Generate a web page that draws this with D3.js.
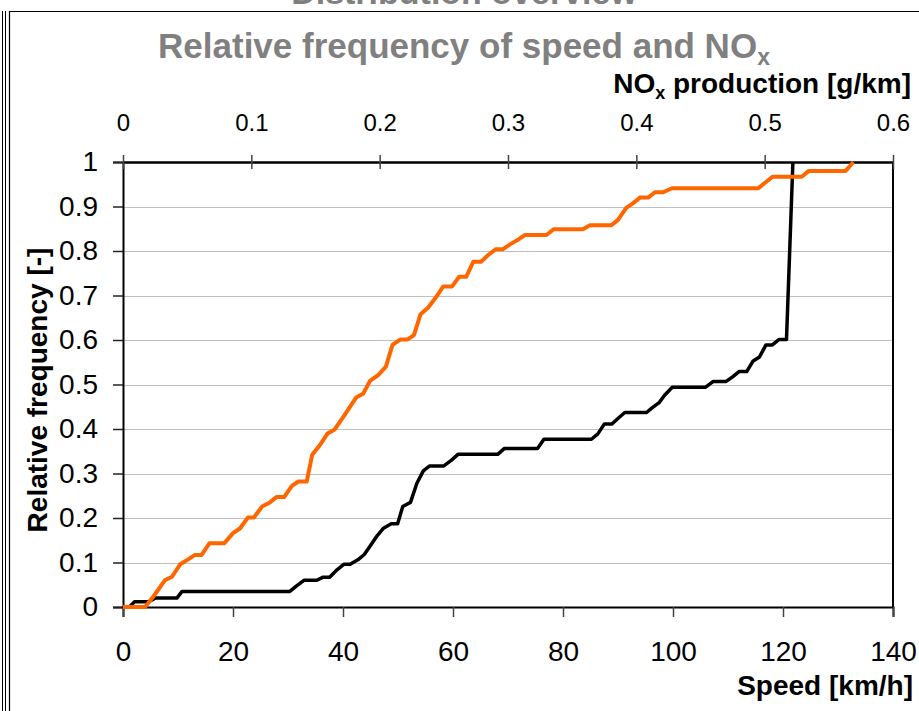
<!DOCTYPE html>
<html>
<head>
<meta charset="utf-8">
<script src="https://cdn.jsdelivr.net/npm/d3@7"></script>
<style>
  body { margin: 0; background: #fff; }
  svg { display: block; font-family: "Liberation Sans", Arial, sans-serif; }
</style>
</head>
<body>
<div id="chart"></div>
<script>
// Speed distribution (bottom axis, km/h)
const speedKmh = [
  0, 4, 5.5, 7.6, 8.9, 10.4, 11.7, 13.1, 14.3, 15.7,
  18.4, 20, 21.3, 22.7, 23.8, 25.3, 26.7, 27.9, 29.3, 30.7,
  31.9, 33.4, 34.4, 35.8, 37.2, 38.5, 40.7, 42.4, 43.7, 44.9,
  46.4, 47.8, 49, 50.4, 51.7, 52.9, 54.1, 55.5, 56.9, 58.2,
  59.8, 61.1, 62.4, 63.7, 65.1, 66.4, 67.8, 69.1, 70.5, 71.9,
  73.1, 77.0, 78.3, 83.6, 84.9, 88.8, 90, 91.5, 92.7, 94,
  95.5, 96.7, 98.2, 99.8, 115.5, 118.1, 123.4, 124.7, 131.4, 132.8
];
const speedFreq = [
  0, 0, 0.023, 0.06, 0.068, 0.096, 0.106, 0.117, 0.117, 0.143,
  0.143, 0.166, 0.177, 0.201, 0.201, 0.226, 0.235, 0.247, 0.247, 0.272,
  0.282, 0.282, 0.342, 0.364, 0.39, 0.399, 0.439, 0.471, 0.48, 0.508,
  0.521, 0.54, 0.589, 0.601, 0.601, 0.611, 0.658, 0.673, 0.696, 0.72,
  0.72, 0.742, 0.742, 0.776, 0.776, 0.791, 0.804, 0.804, 0.816, 0.826,
  0.836, 0.836, 0.849, 0.849, 0.858, 0.858, 0.87, 0.897, 0.907, 0.92,
  0.92, 0.932, 0.932, 0.941, 0.941, 0.967, 0.967, 0.98, 0.98, 1.0
];

// NOx distribution (top axis, g/km)
const noxGkm = [
  0, 0.005, 0.009, 0.020, 0.025, 0.042, 0.046, 0.130, 0.135, 0.141,
  0.151, 0.156, 0.161, 0.167, 0.172, 0.177, 0.183, 0.188, 0.193, 0.198,
  0.203, 0.209, 0.214, 0.218, 0.224, 0.229, 0.234, 0.239, 0.250, 0.256,
  0.261, 0.292, 0.297, 0.323, 0.328, 0.365, 0.370, 0.375, 0.381, 0.385,
  0.391, 0.408, 0.412, 0.418, 0.422, 0.428, 0.454, 0.460, 0.470, 0.475,
  0.480, 0.486, 0.491, 0.496, 0.501, 0.506, 0.511, 0.517, 0.522
];
const noxFreq = [
  0, 0, 0.012, 0.012, 0.02, 0.02, 0.035, 0.035, 0.047, 0.06,
  0.06, 0.067, 0.067, 0.084, 0.096, 0.096, 0.106, 0.118, 0.139, 0.16,
  0.177, 0.187, 0.187, 0.226, 0.235, 0.278, 0.306, 0.317, 0.317, 0.33,
  0.343, 0.343, 0.356, 0.356, 0.377, 0.377, 0.389, 0.411, 0.411, 0.422,
  0.437, 0.437, 0.447, 0.46, 0.476, 0.494, 0.494, 0.507, 0.507, 0.517,
  0.529, 0.529, 0.553, 0.562, 0.589, 0.589, 0.601, 0.601, 1.0
];

// Tick values
const speedTicks = [0, 20, 40, 60, 80, 100, 120, 140];
const noxTicks = [0, 0.1, 0.2, 0.3, 0.4, 0.5, 0.6];
const freqTicks = [0, 0.1, 0.2, 0.3, 0.4, 0.5, 0.6, 0.7, 0.8, 0.9, 1];

const width = 919;
const height = 711;
const plot = { left: 123, right: 893, top: 162, bottom: 607 };

const svg = d3
  .select("#chart")
  .append("svg")
  .attr("width", width)
  .attr("height", height)
  .attr("viewBox", [0, 0, width, height]);

const xSpeed = d3.scaleLinear().domain([0, 140]).range([plot.left, plot.right]);
const xNox = d3.scaleLinear().domain([0, 0.6]).range([plot.left, plot.right]);
const y = d3.scaleLinear().domain([0, 1]).range([plot.bottom, plot.top]);

// Outer frame lines (chart cut out of a larger sheet)
svg.append("line").attr("x1", 2.5).attr("x2", 2.5).attr("y1", 11).attr("y2", height)
  .attr("stroke", "#000").attr("stroke-width", 1);
svg.append("line").attr("x1", 5.5).attr("x2", 5.5).attr("y1", 11).attr("y2", height)
  .attr("stroke", "#000").attr("stroke-width", 1);
svg.append("line").attr("x1", 9.5).attr("x2", 9.5).attr("y1", 11).attr("y2", height)
  .attr("stroke", "#000").attr("stroke-width", 1.2);
svg.append("line").attr("x1", 9).attr("x2", width).attr("y1", 11.5).attr("y2", 11.5)
  .attr("stroke", "#000").attr("stroke-width", 1.2);

// Clipped heading of the sheet above (only its lower edge shows)
svg.append("text")
  .attr("x", 464)
  .attr("y", 4)
  .attr("text-anchor", "middle")
  .attr("fill", "#808080")
  .style("font-weight", "bold")
  .style("font-size", "34px")
  .text("Distribution overview");

// Gridlines
svg.append("g")
  .selectAll("line")
  .data(freqTicks)
  .join("line")
  .attr("x1", plot.left)
  .attr("x2", plot.right)
  .attr("y1", (d) => Math.round(y(d)) + 0.5)
  .attr("y2", (d) => Math.round(y(d)) + 0.5)
  .attr("stroke", "#c0c0c0")
  .attr("stroke-width", 1);

// Right border of the plot
svg.append("line")
  .attr("x1", plot.right).attr("x2", plot.right)
  .attr("y1", plot.top).attr("y2", plot.bottom)
  .attr("stroke", "#000").attr("stroke-width", 2);

// Left axis
const yAxis = svg.append("g")
  .attr("transform", `translate(${plot.left},0)`)
  .call(d3.axisLeft(y).tickValues(freqTicks).tickFormat(d3.format("")).tickSize(10).tickPadding(15));
yAxis.select(".domain").attr("stroke", "#000").attr("stroke-width", 2);
yAxis.selectAll(".tick line").attr("stroke", "#222").attr("stroke-width", 1.5);
yAxis.selectAll(".tick text")
  .attr("fill", "#000")
  .style("font-size", "28px")
  .style("font-family", "Liberation Sans, Arial, sans-serif");

// Bottom axis (speed)
const xAxisBottom = svg.append("g")
  .attr("transform", `translate(0,${plot.bottom})`)
  .call(d3.axisBottom(xSpeed).tickValues(speedTicks).tickSize(10).tickPadding(24));
xAxisBottom.select(".domain").attr("stroke", "#000").attr("stroke-width", 2);
xAxisBottom.selectAll(".tick line").attr("stroke", "#444").attr("stroke-width", 1.5);
xAxisBottom.selectAll(".tick text")
  .attr("fill", "#000")
  .style("font-size", "28px")
  .style("font-family", "Liberation Sans, Arial, sans-serif");

// Top axis (NOx), ticks cross the axis line
const xAxisTop = svg.append("g")
  .attr("transform", `translate(0,${plot.top})`)
  .call(d3.axisTop(xNox).tickValues(noxTicks).tickFormat(d3.format("")).tickSizeInner(-7).tickSizeOuter(0).tickPadding(31));
xAxisTop.select(".domain").attr("stroke", "#000").attr("stroke-width", 2.5);
xAxisTop.selectAll(".tick line").attr("y1", -7).attr("stroke", "#444").attr("stroke-width", 1.5);
xAxisTop.selectAll(".tick text")
  .attr("fill", "#000")
  .style("font-size", "24px")
  .style("font-family", "Liberation Sans, Arial, sans-serif");

// Series lines
const speedLine = d3.line()
  .x((d, i) => xSpeed(speedKmh[i]))
  .y((d) => y(d));
const noxLine = d3.line()
  .x((d, i) => xNox(noxGkm[i]))
  .y((d) => y(d));

svg.append("path")
  .attr("d", noxLine(noxFreq))
  .attr("fill", "none")
  .attr("stroke", "#000")
  .attr("stroke-width", 3.5)
  .attr("stroke-linejoin", "round");

svg.append("path")
  .attr("d", speedLine(speedFreq))
  .attr("fill", "none")
  .attr("stroke", "#ff6600")
  .attr("stroke-width", 4)
  .attr("stroke-linejoin", "round");

// Titles
const title = svg.append("text")
  .attr("x", 464)
  .attr("y", 58)
  .attr("text-anchor", "middle")
  .attr("fill", "#808080")
  .style("font-weight", "bold")
  .style("font-size", "35px");
title.append("tspan").text("Relative frequency of speed and NO");
title.append("tspan").attr("dy", 7).style("font-size", "23px").text("x");

const topTitle = svg.append("text")
  .attr("x", 911)
  .attr("y", 93)
  .attr("text-anchor", "end")
  .attr("fill", "#000")
  .style("font-weight", "bold")
  .style("font-size", "28px");
topTitle.append("tspan").text("NO");
topTitle.append("tspan").attr("dy", 6).style("font-size", "18px").text("x");
topTitle.append("tspan").attr("dy", -6).text(" production [g/km]");

svg.append("text")
  .attr("x", 913)
  .attr("y", 695)
  .attr("text-anchor", "end")
  .attr("fill", "#000")
  .style("font-weight", "bold")
  .style("font-size", "28px")
  .text("Speed [km/h]");

svg.append("text")
  .attr("transform", "translate(47,390) rotate(-90)")
  .attr("text-anchor", "middle")
  .attr("fill", "#000")
  .style("font-weight", "bold")
  .style("font-size", "28px")
  .text("Relative frequency [-]");
</script>
</body>
</html>
